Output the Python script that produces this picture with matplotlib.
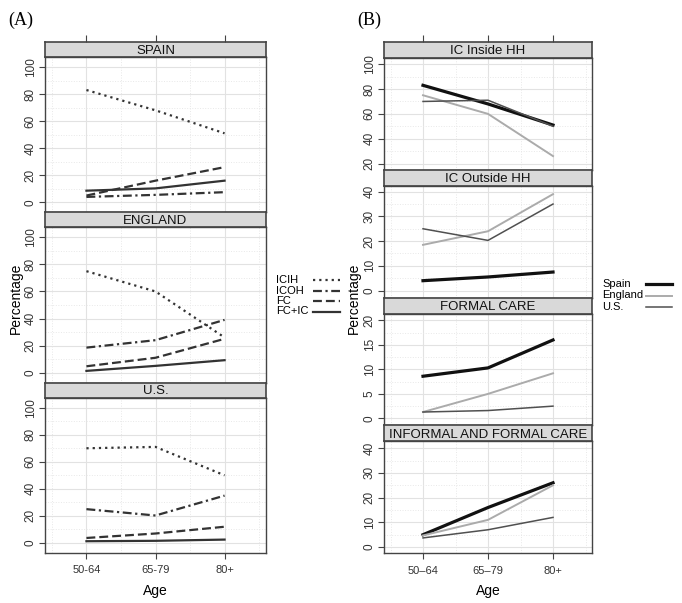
import matplotlib
matplotlib.use('Agg')
import matplotlib.pyplot as plt
from matplotlib.lines import Line2D

# Age groups (tick labels differ slightly between the two panel sets)
ages_a = ['50-64', '65-79', '80+']
ages_b = ['50\u201364', '65\u201379', '80+']
countries = ['Spain', 'England', 'U.S.']

# Percentages by country: [50-64, 65-79, 80+]
ic_inside = {'Spain': [83, 68, 51], 'England': [75, 60, 26], 'U.S.': [70, 71, 50]}
ic_outside = {'Spain': [4, 5.5, 7.5], 'England': [18.5, 24, 39], 'U.S.': [25, 20.3, 35]}
formal = {'Spain': [8.6, 10.3, 16], 'England': [1.3, 5, 9.2], 'U.S.': [1.3, 1.6, 2.5]}
inf_formal = {'Spain': [5, 16, 26], 'England': [4.7, 11, 25], 'U.S.': [3.7, 7, 12]}

# panel (A): legend labels and the series drawn for them
a_labels = ['ICIH', 'ICOH', 'FC', 'FC+IC']
a_series = [ic_inside, ic_outside, inf_formal, formal]
a_styles = [(0, (1, 1.8)), (0, (4, 1.6, 1, 1.6)), (0, (4, 1.8)), '-']
a_strips = ['SPAIN', 'ENGLAND', 'U.S.']

# panel (B)
b_strips = ['IC Inside HH', 'IC Outside HH', 'FORMAL CARE', 'INFORMAL AND FORMAL CARE']
b_series = [ic_inside, ic_outside, formal, inf_formal]
b_colors = {'Spain': '#111111', 'England': '#ababab', 'U.S.': '#505050'}
b_widths = {'Spain': 2.3, 'England': 1.4, 'U.S.': 1.1}
b_ylims = [(15, 105), (-2.8, 42.4), (-1.4, 21.4), (-2.4, 42.8)]
b_yticks = [range(20, 101, 20), range(0, 41, 10), range(0, 21, 5), range(0, 41, 10)]

W, H = 682, 603
SANS = ['Liberation Sans', 'DejaVu Sans']
FRAME = '#444444'

fig = plt.figure(figsize=(W / 100, H / 100), dpi=100)


def px_axes(left, top, width, height):
    return fig.add_axes([left / W, 1 - (top + height) / H, width / W, height / H])


def style_panel(ax, ylim, yticks, minor):
    ax.set_xlim(0.4, 3.6)
    ax.set_ylim(*ylim)
    ax.set_xticks([1, 2, 3])
    ax.set_xticks([0.5, 1.5, 2.5, 3.5], minor=True)
    ax.set_yticks(list(yticks))
    ax.set_yticks(minor, minor=True)
    ax.grid(True, which='major', color='#e2e2e2', lw=0.8)
    ax.grid(True, which='minor', color='#e8e8e8', lw=0.7, ls=':')
    ax.set_axisbelow(True)
    ax.tick_params(axis='y', which='major', direction='out', length=4, width=0.8,
                   color=FRAME, labelsize=8.5, labelrotation=90, pad=2)
    for lab in ax.get_yticklabels():
        lab.set_family(SANS)
        lab.set_color('#333333')
        lab.set_va('center')
    ax.tick_params(axis='both', which='minor', length=0)
    ax.tick_params(axis='x', which='major', bottom=False, labelbottom=False)
    for s in ax.spines.values():
        s.set_color(FRAME)
        s.set_linewidth(1.0)


def strip(left, top, width, height, text, top_ticks):
    sx = px_axes(left, top, width, height)
    sx.set_facecolor('#d9d9d9')
    sx.set_xlim(0.4, 3.6)
    sx.set_ylim(0, 1)
    sx.set_yticks([])
    if top_ticks:
        sx.set_xticks([1, 2, 3])
        sx.tick_params(axis='x', bottom=False, labelbottom=False, top=True,
                       direction='out', length=5, width=0.8, color=FRAME)
    else:
        sx.set_xticks([])
    for s in sx.spines.values():
        s.set_color(FRAME)
        s.set_linewidth(1.2)
    sx.text(2, 0.42, text, ha='center', va='center', fontsize=9.5,
            family=SANS, color='#111111')


def bottom_axis(ax, labels):
    ax.tick_params(axis='x', which='major', bottom=True, labelbottom=True,
                   direction='out', length=4, width=0.8, color=FRAME,
                   labelsize=8, pad=5)
    ax.set_xticklabels(labels, family=SANS, color='#333333')
    ax.set_xlabel('Age', fontsize=10, family=SANS, labelpad=6)


# ---------- (A) ----------
a_left, a_w, a_top, a_step, a_strip = 45, 221, 42, 170.33, 15
for i, c in enumerate(countries):
    top = a_top + i * a_step
    strip(a_left, top, a_w, a_strip, a_strips[i], i == 0)
    ax = px_axes(a_left, top + a_strip, a_w, a_step - a_strip)
    style_panel(ax, (-7.4, 107.4), range(0, 101, 20), range(10, 100, 20))
    for data, ls in zip(a_series, a_styles):
        ax.plot([1, 2, 3], data[c], color='#333333', lw=1.6, ls=ls)
    if i == len(countries) - 1:
        bottom_axis(ax, ages_a)

fig.text(16 / W, 1 - 298 / H, 'Percentage', rotation=90, ha='center', va='center',
         fontsize=10, family=SANS)

# legend (A)
for k, (lab, ls) in enumerate(zip(a_labels, a_styles)):
    y = 1 - (280 + k * 10.5) / H
    fig.text(276 / W, y, lab, ha='left', va='center', fontsize=8, family=SANS)
    fig.add_artist(Line2D([313 / W, 340 / W], [y, y], color='#333333', lw=1.6, ls=ls))

# ---------- (B) ----------
b_left, b_w, b_top, b_step, b_strip = 384, 208, 42, 127.75, 16
for i, name in enumerate(b_strips):
    top = b_top + i * b_step
    strip(b_left, top, b_w, b_strip, name, i == 0)
    ax = px_axes(b_left, top + b_strip, b_w, b_step - b_strip)
    yt = list(b_yticks[i])
    half = (yt[1] - yt[0]) / 2
    style_panel(ax, b_ylims[i], yt, [t + half for t in yt[:-1]])
    for c in countries:
        ax.plot([1, 2, 3], b_series[i][c], color=b_colors[c], lw=b_widths[c])
    if i == len(b_strips) - 1:
        bottom_axis(ax, ages_b)

fig.text(354 / W, 1 - 298 / H, 'Percentage', rotation=90, ha='center', va='center',
         fontsize=10, family=SANS)

# legend (B)
for k, c in enumerate(countries):
    y = 1 - (284 + k * 11.5) / H
    fig.text(602 / W, y, c, ha='left', va='center', fontsize=8, family=SANS)
    fig.add_artist(Line2D([646 / W, 672 / W], [y, y], color=b_colors[c], lw=b_widths[c]))

# panel letters
fig.text(8 / W, 1 - 20 / H, '(A)', fontsize=13, family='Liberation Serif', va='center')
fig.text(357 / W, 1 - 20 / H, '(B)', fontsize=13, family='Liberation Serif', va='center')

fig.savefig('out.png', dpi=100, facecolor='white')
